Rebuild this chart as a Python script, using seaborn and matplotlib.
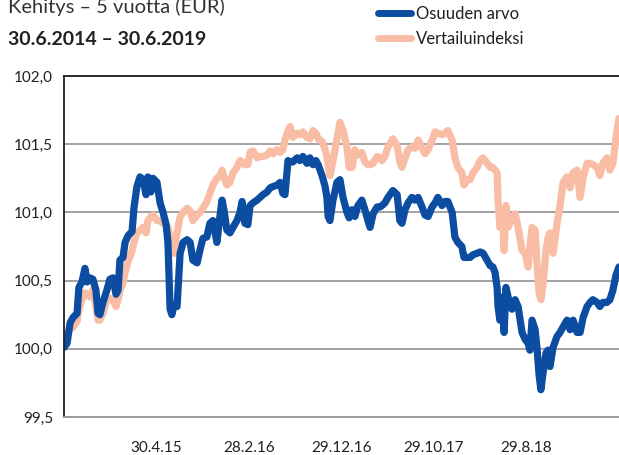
import pandas as pd
import numpy as np
import matplotlib
matplotlib.use('Agg')
import matplotlib.pyplot as plt
from matplotlib.lines import Line2D
from matplotlib.ticker import FuncFormatter
import seaborn as sns

# ── Data ──────────────────────────────────────────────────────────────────
ALKU = '2014-06-30'
paivat = [0, 10, 20, 30, 43, 49, 59, 69, 76, 86, 95, 105, 112, 118, 128, 141,
          151, 161, 171, 178, 184, 194, 201, 211, 224, 230, 240, 250, 260, 270,
          276, 286, 293, 306, 316, 326, 336, 342, 349, 355, 362, 372, 382, 392,
          405, 415, 424, 438, 447, 457, 470, 480, 490, 503, 513, 520, 526, 536,
          546, 556, 569, 579, 586, 595, 605, 612, 622, 635, 645, 655, 668, 678,
          688, 701, 711, 720, 727, 737, 744, 753, 767, 776, 786, 799, 809, 819,
          829, 836, 849, 859, 865, 869, 875, 885, 898, 908, 918, 931, 938, 948,
          957, 967, 980, 990, 1000, 1007, 1017, 1030, 1040, 1046, 1056, 1066,
          1082, 1096, 1105, 1112, 1122, 1132, 1145, 1155, 1165, 1178, 1188, 1198,
          1211, 1221, 1230, 1244, 1253, 1263, 1277, 1286, 1296, 1309, 1316, 1326,
          1336, 1346, 1359, 1369, 1379, 1392, 1402, 1411, 1418, 1425, 1428, 1434,
          1444, 1448, 1454, 1461, 1474, 1484, 1494, 1507, 1517, 1527, 1533, 1540,
          1550, 1556, 1563, 1569, 1576, 1586, 1592, 1599, 1609, 1622, 1632, 1642,
          1655, 1665, 1675, 1688, 1698, 1708, 1721, 1731, 1740, 1754, 1763, 1773,
          1786, 1796, 1806, 1816, 1826]

osuus = [100.01, 100.04, 100.19, 100.23, 100.26, 100.45, 100.49, 100.59, 100.49,
         100.52, 100.51, 100.43, 100.26, 100.25, 100.34, 100.43, 100.51, 100.52,
         100.40, 100.43, 100.65, 100.67, 100.78, 100.83, 100.86, 101.03, 101.19,
         101.26, 101.24, 101.13, 101.26, 101.15, 101.25, 101.22, 101.07, 101.00,
         100.91, 100.78, 100.29, 100.25, 100.32, 100.31, 100.70, 100.78, 100.80,
         100.78, 100.65, 100.63, 100.72, 100.81, 100.82, 100.92, 100.94, 100.78,
         100.97, 101.09, 101.02, 100.87, 100.85, 100.89, 100.94, 101.00, 101.08,
         100.92, 100.91, 101.05, 101.07, 101.09, 101.11, 101.13, 101.15, 101.18,
         101.19, 101.20, 101.22, 101.14, 101.13, 101.38, 101.37, 101.37, 101.40,
         101.38, 101.41, 101.36, 101.40, 101.35, 101.38, 101.35, 101.27, 101.19,
         101.11, 100.97, 100.94, 101.09, 101.22, 101.24, 101.11, 101.00, 100.96,
         101.02, 100.97, 101.05, 101.09, 101.02, 100.94, 100.89, 100.99, 101.04,
         101.04, 101.05, 101.07, 101.11, 101.16, 101.13, 100.94, 100.92, 101.02,
         101.07, 101.11, 101.09, 101.11, 101.04, 100.98, 100.97, 101.04, 101.07,
         101.11, 101.05, 101.08, 101.08, 101.00, 100.82, 100.78, 100.75, 100.67,
         100.67, 100.67, 100.69, 100.70, 100.71, 100.70, 100.65, 100.61, 100.60,
         100.56, 100.45, 100.31, 100.21, 100.38, 100.12, 100.45, 100.38, 100.29,
         100.36, 100.31, 100.12, 100.07, 100.04, 99.99, 100.21, 100.14, 100.01,
         99.81, 99.70, 99.82, 99.97, 99.99, 99.87, 100.01, 100.09, 100.12, 100.16,
         100.21, 100.14, 100.21, 100.12, 100.12, 100.23, 100.31, 100.34, 100.36,
         100.34, 100.31, 100.34, 100.34, 100.36, 100.43, 100.54, 100.60]

indeksi = [100.09, 100.12, 100.14, 100.16, 100.20, 100.29, 100.36, 100.41, 100.40,
           100.38, 100.43, 100.32, 100.21, 100.21, 100.26, 100.36, 100.37, 100.36,
           100.31, 100.36, 100.43, 100.48, 100.56, 100.64, 100.72, 100.78, 100.85,
           100.87, 100.89, 100.85, 100.94, 100.97, 100.98, 100.94, 100.94, 100.92,
           100.91, 100.89, 100.81, 100.76, 100.70, 100.85, 100.97, 101.00, 101.03,
           101.01, 100.94, 100.98, 101.00, 101.03, 101.08, 101.14, 101.20, 101.25,
           101.27, 101.31, 101.26, 101.20, 101.22, 101.29, 101.33, 101.38, 101.37,
           101.35, 101.35, 101.44, 101.45, 101.40, 101.41, 101.41, 101.42, 101.45,
           101.43, 101.46, 101.44, 101.46, 101.53, 101.60, 101.63, 101.55, 101.58,
           101.57, 101.59, 101.55, 101.54, 101.60, 101.58, 101.54, 101.52, 101.46,
           101.41, 101.35, 101.27, 101.38, 101.54, 101.66, 101.60, 101.48, 101.33,
           101.33, 101.46, 101.42, 101.44, 101.37, 101.35, 101.35, 101.36, 101.41,
           101.40, 101.38, 101.41, 101.48, 101.54, 101.49, 101.37, 101.33, 101.40,
           101.46, 101.48, 101.47, 101.53, 101.47, 101.43, 101.46, 101.53, 101.59,
           101.58, 101.57, 101.58, 101.60, 101.53, 101.40, 101.33, 101.29, 101.20,
           101.24, 101.24, 101.29, 101.33, 101.38, 101.40, 101.36, 101.33, 101.33,
           101.31, 101.29, 101.09, 100.89, 100.94, 100.72, 101.05, 100.89, 100.96,
           100.99, 100.89, 100.72, 100.70, 100.60, 100.75, 100.89, 100.87, 100.63,
           100.41, 100.36, 100.47, 100.72, 100.81, 100.85, 100.70, 100.92, 101.05,
           101.22, 101.26, 101.18, 101.29, 101.31, 101.11, 101.26, 101.36, 101.36,
           101.35, 101.33, 101.27, 101.36, 101.40, 101.31, 101.36, 101.55, 101.69]

tick_dates  = ['2015-04-30', '2016-02-28', '2016-12-29', '2017-10-29', '2018-08-29']
tick_labels = ['30.4.15', '28.2.16', '29.12.16', '29.10.17', '29.8.18']

BLUE   = '#0c4da2'
PEACH  = '#f9bda5'
DARK   = '#231f20'
GRID   = '#9b9b9b'

# ── Long-form frame for seaborn ───────────────────────────────────────────
pvm = pd.Timestamp(ALKU) + pd.to_timedelta(paivat, unit='D')
df = pd.DataFrame({'pvm': pvm, 'Osuuden arvo': osuus, 'Vertailuindeksi': indeksi})
df_long = df.melt(id_vars='pvm', var_name='sarja', value_name='arvo')

sns.set_style('white')
plt.rcParams['font.family'] = ['Lato', 'DejaVu Sans']

fig = plt.figure(figsize=(6.19, 4.55), dpi=100)
ax = fig.add_axes([64 / 619, 1 - 417 / 455, 1 - 64 / 619, (417 - 76) / 455])

sns.lineplot(data=df_long, x='pvm', y='arvo', hue='sarja',
             hue_order=['Vertailuindeksi', 'Osuuden arvo'],
             palette={'Osuuden arvo': BLUE, 'Vertailuindeksi': PEACH},
             linewidth=5.2, legend=False, ax=ax,
             solid_capstyle='round', solid_joinstyle='round')

# ── Axes styling ──────────────────────────────────────────────────────────
ax.set_xlim(pd.Timestamp(ALKU), pd.Timestamp(ALKU) + pd.Timedelta(days=1826))
ax.set_ylim(99.5, 102.0)
ax.set_yticks([99.5, 100.0, 100.5, 101.0, 101.5, 102.0])
ax.yaxis.set_major_formatter(FuncFormatter(lambda v, p: f'{v:.1f}'.replace('.', ',')))
ax.set_xticks(pd.to_datetime(tick_dates))
ax.set_xticklabels(tick_labels)
ax.set_xlabel('')
ax.set_ylabel('')
ax.tick_params(axis='both', length=0, labelsize=11, colors=DARK)
ax.tick_params(axis='y', pad=8)
ax.tick_params(axis='x', pad=17)

ax.yaxis.grid(True, color=GRID, linewidth=1.3)
ax.xaxis.grid(False)
ax.set_axisbelow(True)
ax.spines['right'].set_visible(False)
ax.spines['left'].set_color(DARK)
ax.spines['left'].set_linewidth(1.3)
ax.spines['top'].set_color(DARK)
ax.spines['top'].set_linewidth(1.3)
ax.spines['bottom'].set_color(GRID)
ax.spines['bottom'].set_linewidth(1.3)

# ── Titles ────────────────────────────────────────────────────────────────
fig.text(8 / 619, 1 - 13 / 455, 'Kehitys – 5 vuotta (EUR)', fontsize=14.5,
         color='#333333', ha='left', va='baseline')
fig.text(8 / 619, 1 - 45 / 455, '30.6.2014 – 30.6.2019', fontsize=14,
         fontweight='bold', color=DARK, ha='left', va='baseline')

# ── Legend ────────────────────────────────────────────────────────────────
handles = [Line2D([], [], color=BLUE, linewidth=5, solid_capstyle='round'),
           Line2D([], [], color=PEACH, linewidth=5, solid_capstyle='round')]
fig.legend(handles, ['Osuuden arvo', 'Vertailuindeksi'], loc='upper left',
           bbox_to_anchor=(378 / 619, 1 - 6 / 455), frameon=False,
           fontsize=12, handlelength=2.0, handletextpad=0.3,
           labelspacing=0.55, borderpad=0, borderaxespad=0,
           labelcolor=DARK)

plt.savefig('out.png', dpi=100)
plt.close()
